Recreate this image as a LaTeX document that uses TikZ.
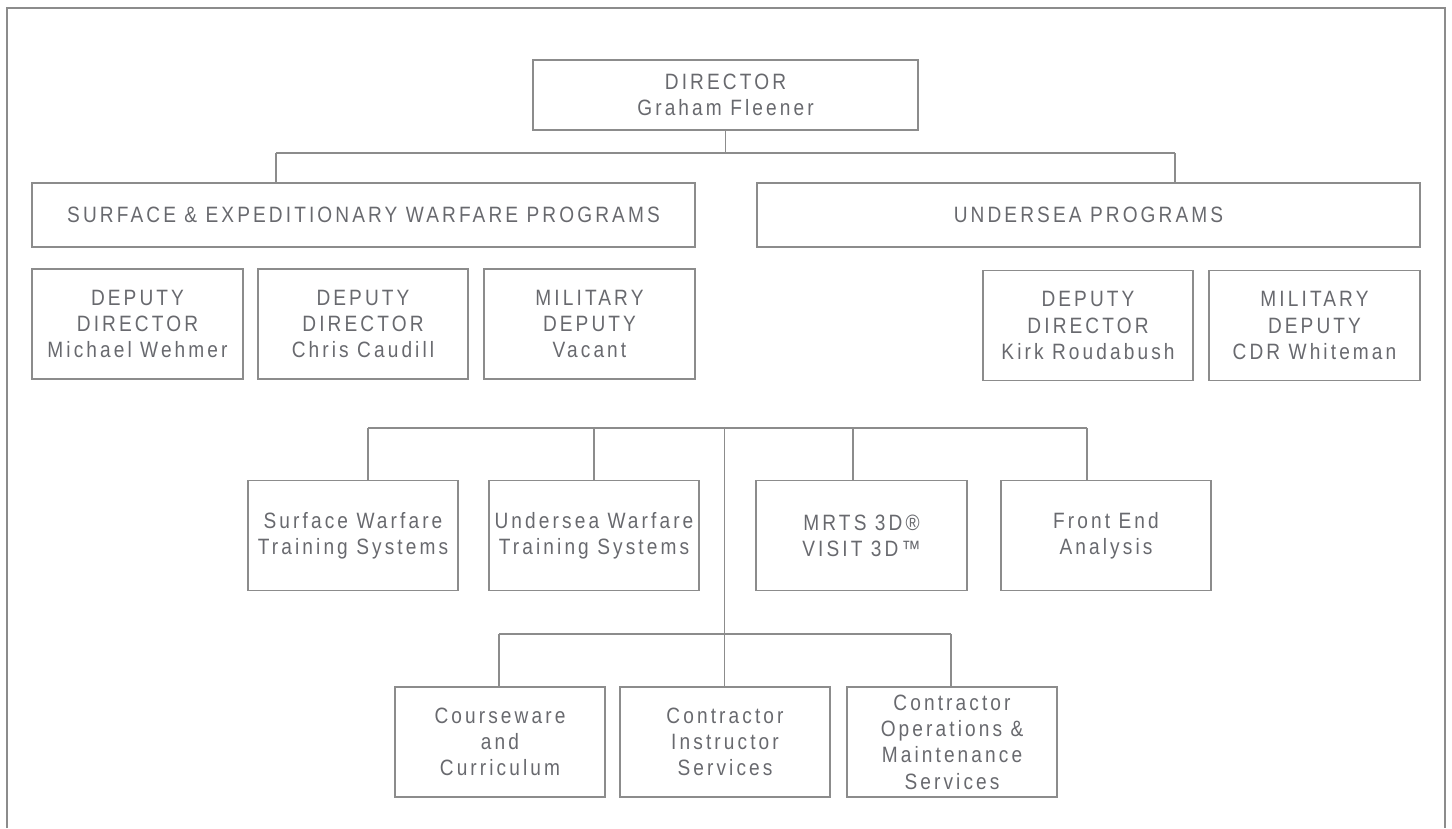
\documentclass[tikz,border=0pt]{standalone}
\usepackage{fontspec}
\setmainfont{Liberation Sans}[FakeStretch=0.86,LetterSpace=14]
\definecolor{lg}{RGB}{140,140,140}
\definecolor{tg}{RGB}{104,105,110}
\begin{document}
\begin{tikzpicture}[x=1pt,y=-1pt,
  box/.style={draw=lg,line width=1.4pt,inner sep=0pt,align=center,text=tg,
    font=\fontsize{22.2}{26.3}\selectfont},
  conn/.style={draw=lg,line width=1.4pt}]
\useasboundingbox (0,0) rectangle (1452,828);
\draw[lg,line width=2pt] (7,828) -- (7,8) -- (1445,8) -- (1445,828);

% top
\node[box,minimum width=385,minimum height=70] (dir) at (725.5,95) {DIRECTOR\\Graham Fleener};
\node[box,minimum width=663,minimum height=64] (sewp) at (363.5,215) {SURFACE \& EXPEDITIONARY WARFARE PROGRAMS};
\node[box,minimum width=663,minimum height=64] (usp) at (1088.5,215) {UNDERSEA PROGRAMS};

% deputies
\node[box,minimum width=211,minimum height=110] (d1) at (137.5,324) {DEPUTY\\DIRECTOR\\Michael Wehmer};
\node[box,minimum width=210,minimum height=110] (d2) at (363,324) {DEPUTY\\DIRECTOR\\Chris Caudill};
\node[box,minimum width=211,minimum height=110] (d3) at (589.5,324) {MILITARY\\DEPUTY\\Vacant};
\node[box,minimum width=210,minimum height=110] (d4) at (1088,325.5) {DEPUTY\\DIRECTOR\\Kirk Roudabush};
\node[box,minimum width=211,minimum height=110] (d5) at (1314.5,325.5) {MILITARY\\DEPUTY\\CDR Whiteman};

% middle row
\node[box,minimum width=210,minimum height=110] (m1) at (353,535.5) {Surface Warfare\\Training Systems};
\node[box,minimum width=210,minimum height=110] (m2) at (594,535.5) {Undersea Warfare\\Training Systems};
\node[box,minimum width=211,minimum height=110] (m3) at (861.5,535.5) {MRTS 3D®\\VISIT 3D™};
\node[box,minimum width=210,minimum height=110] (m4) at (1106,535.5) {Front End\\Analysis};

% bottom row
\node[box,minimum width=210,minimum height=110] (b1) at (500,742) {Courseware\\and\\Curriculum};
\node[box,minimum width=210,minimum height=110] (b2) at (725,742) {Contractor\\Instructor\\Services};
\node[box,minimum width=210,minimum height=110] (b3) at (952,742) {Contractor\\Operations \&\\Maintenance\\Services};

% connectors top
\coordinate (hl) at (276,153);
\coordinate (hr) at (1175,153);
\draw[conn] (dir.south) -- (dir.south |- hl);
\draw[conn] (hl) -- (hr);
\draw[conn] (hl) -- (hl |- sewp.north);
\draw[conn] (hr) -- (hr |- usp.north);

% connectors middle
\coordinate (ml) at (368,428);
\coordinate (mr) at (1087,428);
\coordinate (mt) at (724.5,428);
\coordinate (c2) at (594,428);
\coordinate (c3) at (853,428);
\draw[conn] (ml) -- (mr);
\draw[conn] (ml) -- (ml |- m1.north);
\draw[conn] (c2) -- (c2 |- m2.north);
\draw[conn] (c3) -- (c3 |- m3.north);
\draw[conn] (mr) -- (mr |- m4.north);
\draw[conn] (mt) -- (mt |- b2.north);

% connectors bottom
\coordinate (bl) at (499,634);
\coordinate (br) at (951,634);
\draw[conn] (bl) -- (br);
\draw[conn] (bl) -- (bl |- b1.north);
\draw[conn] (br) -- (br |- b3.north);
\end{tikzpicture}
\end{document}
